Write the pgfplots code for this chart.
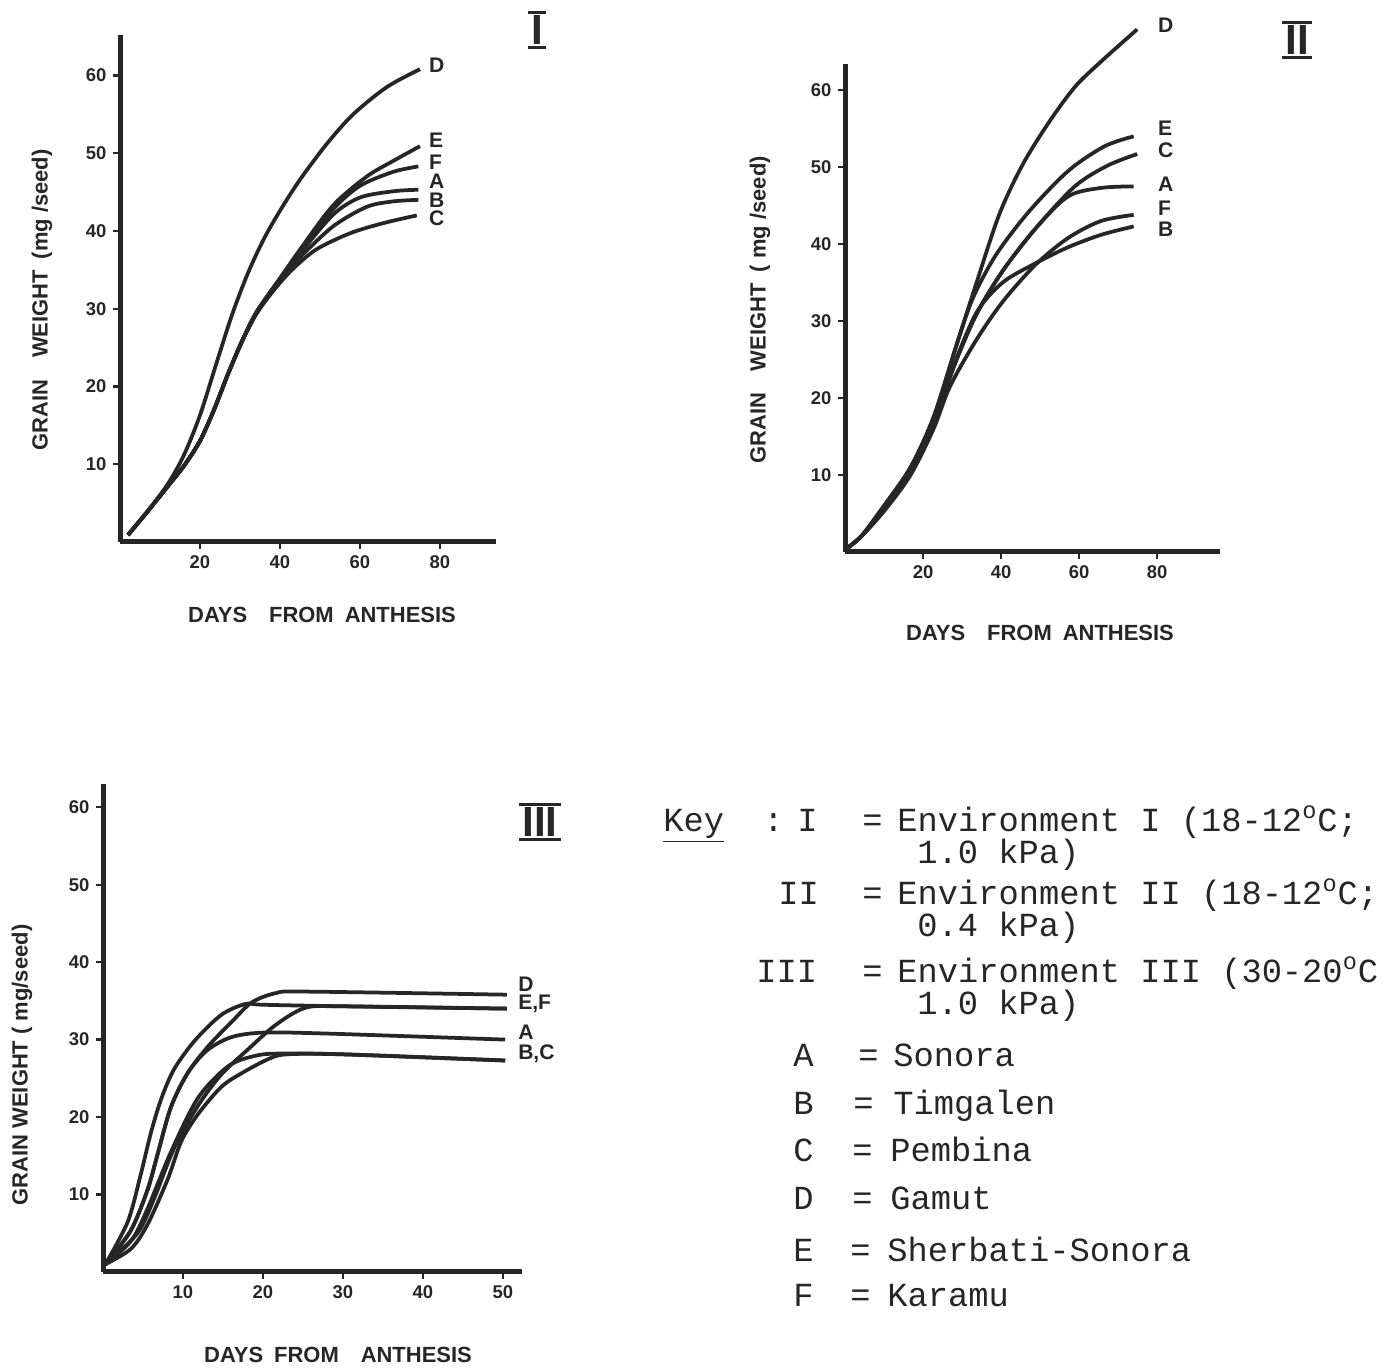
\documentclass[border=0pt]{standalone}
\usepackage{pgfplots}
\pgfplotsset{compat=1.18}
\usepackage{fontspec}
\setmainfont{Liberation Sans}
\newfontfamily\keyfont{Liberation Mono}

\pgfplotsset{
  panel/.style={
    scale only axis, axis x line=bottom, axis y line=left,
    axis line style={-, line width=1mm, black!85},
    tick align=outside, major tick length=1.5mm,
    tick style={line width=0.45mm, black!85},
    ticklabel style={font=\fontsize{10.5}{12}\selectfont\bfseries, black!85},
    /pgf/number format/assume math mode=true,
    clip=false, enlargelimits=false, anchor=south west,
  },
  crv/.style={smooth, line width=0.75mm, black!85, no marks},
}
\tikzset{
  lbl/.style={font=\fontsize{12}{14}\selectfont\bfseries, text=black!85, anchor=west, inner sep=0.4pt},
  axlbl/.style={font=\fontsize{12.5}{14}\selectfont\bfseries, text=black!85},
  key/.style={font=\keyfont\fontsize{19.2}{22}\selectfont, text=black!85, anchor=base west, inner sep=0pt},
}
\newcommand\panellabel[2]{%
  \node[font=\fontsize{24}{24}\selectfont\bfseries, text=black!85, inner sep=1.5pt] (pl) at #1 {#2};
  \draw[line width=0.6mm, black!85] (pl.north west) -- (pl.north east);
  \draw[line width=0.6mm, black!85] (pl.south west) -- (pl.south east);
}

\begin{document}
\begin{tikzpicture}
\useasboundingbox (0,0) rectangle (277.6mm,273.6mm);

% ---- panel I
\begin{axis}[panel, at={(24mm,165.2mm)}, width=75.2mm, height=101.4mm,
  xmin=0, xmax=94, ymin=0, ymax=65.2,
  xtick={20,40,60,80}, ytick={10,20,30,40,50,60}]
  % D
  \addplot[crv] coordinates {(2,0.9)(7,4)(12,7.5)(16,11.2)(20,16.3)(24,22.8)(28,29.2)(32,34.6)(36,39)(40,42.6)(45,46.6)(51.7,51.2)(58.3,55)(66.7,58.5)(75,60.8)};
  % E
  \addplot[crv] coordinates {(2,0.9)(7,4)(12,7.2)(16,9.8)(20,13)(23.5,17)(27,21.6)(30.5,25.8)(34.2,29.6)(40,33.9)(45,37.6)(53.3,43.3)(61.7,47)(68.3,49)(75,50.9)};
  % F
  \addplot[crv] coordinates {(2,0.9)(7,4)(12,7.2)(16,9.8)(20,13)(23.5,17)(27,21.6)(30.5,25.8)(34.2,29.6)(40,33.9)(45,37.4)(53.3,42.8)(60,45.8)(68.3,47.6)(74.6,48.3)};
  % A
  \addplot[crv] coordinates {(2,0.9)(7,4)(12,7.2)(16,9.8)(20,13)(23.5,17)(27,21.6)(30.5,25.8)(34.2,29.6)(40,33.8)(45,37.1)(53.3,42.1)(60,44.3)(68.3,45.1)(74.6,45.3)};
  % B
  \addplot[crv] coordinates {(2,0.9)(7,4)(12,7.2)(16,9.8)(20,13)(23.5,17)(27,21.6)(30.5,25.8)(34.2,29.6)(40,33.6)(45,36.6)(53.3,40.6)(61.7,43.1)(68.3,43.8)(74.6,44)};
  % C
  \addplot[crv] coordinates {(2,0.9)(7,4)(12,7.2)(16,9.8)(20,13)(23.5,17)(27,21.6)(30.5,25.8)(34.2,29.4)(38.5,32.4)(43,35)(49,37.6)(57.5,39.7)(65.8,41)(74.2,42)};
  \node[lbl] at (axis cs:77,61.3) {D};
  \node[lbl] at (axis cs:77,51.7) {E};
  \node[lbl] at (axis cs:77,48.8) {F};
  \node[lbl] at (axis cs:77,46.4) {A};
  \node[lbl] at (axis cs:77,44.0) {B};
  \node[lbl] at (axis cs:77,41.6) {C};
\end{axis}

% ---- panel II
\begin{axis}[panel, at={(169mm,163.2mm)}, width=74.9mm, height=97.6mm,
  xmin=0, xmax=96, ymin=0, ymax=63.4,
  xtick={20,40,60,80}, ytick={10,20,30,40,50,60}]
  % D
  \addplot[crv] coordinates {(0,0.3)(4.1,2)(10,6)(16.8,11)(22.7,17.5)(28.6,26.9)(33.6,34.8)(39.5,43.8)(45.4,50.2)(52.1,55.7)(58.9,60.4)(65.6,63.7)(74.9,67.9)};
  % E
  \addplot[crv] coordinates {(0,0.3)(4.1,2)(10,6)(16.8,11)(22.7,17.5)(28.6,26.9)(32.8,33)(38.7,38.6)(47.1,44.2)(57.2,49.5)(66.5,52.7)(74,54)};
  % C
  \addplot[crv] coordinates {(0,0.3)(4.1,2)(10,5.5)(16.8,10.4)(22.7,17)(28.6,25)(33.8,31)(40.4,36.5)(48.8,42)(58.9,47.5)(67.3,50.2)(74.9,51.7)};
  % A
  \addplot[crv] coordinates {(0,0.3)(4.1,2)(10,5.5)(16.8,10.4)(22.7,17)(28.6,25)(33.8,31)(40.4,36.5)(48.8,42)(57.2,46.2)(65.6,47.3)(74,47.5)};
  % F
  \addplot[crv] coordinates {(0,0.3)(4.1,2)(10,5.3)(16.8,10)(22.7,16)(26.9,21.5)(33.6,27.5)(40.4,32.5)(48.8,37.3)(57.2,40.8)(65.6,43)(74,43.8)};
  % B
  \addplot[crv] coordinates {(0,0.3)(4.1,2)(10,5.5)(16.8,10.4)(22.7,17)(26.9,23)(33.6,31)(40.4,35)(48.8,37.5)(57.2,39.6)(65.6,41.2)(74,42.3)};
  \node[lbl] at (axis cs:80,68.4) {D};
  \node[lbl] at (axis cs:80,55.1) {E};
  \node[lbl] at (axis cs:80,52.2) {C};
  \node[lbl] at (axis cs:80,47.8) {A};
  \node[lbl] at (axis cs:80,44.6) {F};
  \node[lbl] at (axis cs:80,41.9) {B};
\end{axis}

% ---- panel III
\begin{axis}[panel, at={(20.6mm,19.2mm)}, width=83.8mm, height=97.6mm,
  xmin=0, xmax=52.4, ymin=0, ymax=63,
  xtick={10,20,30,40,50}, ytick={10,20,30,40,50,60}]
  % E
  \addplot[crv] coordinates {(0.3,1)(3.1,6.5)(4.7,12.5)(6,18)(7.3,22.4)(8.9,26.2)(11.5,29.9)(14.8,33.2)(17.8,34.6)(20,34.5)(30,34.3)(50.5,34)};
  % D
  \addplot[crv] coordinates {(0.3,1)(3.5,5.4)(5.6,10.7)(6.8,15.1)(8.5,21.3)(10.6,25.7)(13.2,29.2)(16.1,32.3)(18.6,34.8)(21.6,36)(25.3,36.2)(50.5,35.8)};
  % A
  \addplot[crv] coordinates {(0.3,1)(3.5,5.4)(5.6,10.7)(6.8,15.1)(8.5,21.3)(10.6,25.7)(13,28.6)(16,30.3)(19.9,30.9)(27.4,30.8)(50.3,30)};
  % F
  \addplot[crv] coordinates {(0.3,1)(4.3,5)(6.4,9.5)(8.9,16)(11.9,21.5)(14.8,25.5)(18.2,28.8)(21.6,31.9)(25.3,34.1)(30,34.3)(50.5,34)};
  % B
  \addplot[crv] coordinates {(0.3,1)(3.5,4)(5.5,8)(8.5,15.5)(11.9,22.5)(15.7,26.6)(19,27.9)(22,28.2)(30,28.1)(50.3,27.3)};
  % C
  \addplot[crv] coordinates {(0.3,1)(3.5,3)(5.6,6.2)(8.1,12)(9.8,16.9)(11.9,20.4)(14.8,23.9)(17.4,25.7)(20.7,27.5)(23,28.1)(30,28.1)(50.3,27.3)};
  \node[lbl] at (axis cs:51.8,37.2) {D};
  \node[lbl] at (axis cs:51.8,34.6) {E,F};
  \node[lbl] at (axis cs:51.8,31.0) {A};
  \node[lbl] at (axis cs:51.8,28.2) {B,C};
\end{axis}

% ---- axis titles
\node[axlbl, rotate=90] at (8.4mm,213.6mm) {GRAIN\quad WEIGHT\enspace(mg /seed)};
\node[axlbl] at (64.4mm,150.6mm) {DAYS\quad FROM\enspace ANTHESIS};
\node[axlbl, rotate=90] at (152mm,211.6mm) {GRAIN\quad WEIGHT\enspace( mg /seed)};
\node[axlbl] at (208mm,147mm) {DAYS\quad FROM\enspace ANTHESIS};
\node[axlbl, rotate=90] at (4.4mm,60.6mm) {GRAIN WEIGHT ( mg/seed)};
\node[axlbl] at (67.6mm,2.6mm) {DAYS\enspace FROM\quad ANTHESIS};

\panellabel{(107.4mm,267.6mm)}{I}
\panellabel{(259.4mm,265.6mm)}{II}
\panellabel{(108mm,109.2mm)}{III}

% ---- key
\node[key] at (132.6mm,107.2mm) {\underline{Key}};
\node[key] at (152.6mm,107.2mm) {:};
\node[key] at (159.4mm,107.2mm) {I};
\node[key] at (172.4mm,107.2mm) {=};
\node[key] at (179.4mm,107.2mm) {Environment I (18-12\textsuperscript{o}C;};
\node[key] at (183.4mm,100.8mm) {1.0 kPa)};
\node[key] at (155.6mm,92.6mm) {II};
\node[key] at (172.4mm,92.6mm) {=};
\node[key] at (179.4mm,92.6mm) {Environment II (18-12\textsuperscript{o}C;};
\node[key] at (183.4mm,86.2mm) {0.4 kPa)};
\node[key] at (151.2mm,77mm) {III};
\node[key] at (172.4mm,77mm) {=};
\node[key] at (179.4mm,77mm) {Environment III (30-20\textsuperscript{o}C};
\node[key] at (183.4mm,70.6mm) {1.0 kPa)};
\node[key] at (158.6mm,60.2mm) {A};
\node[key] at (171.6mm,60.2mm) {=};
\node[key] at (178.6mm,60.2mm) {Sonora};
\node[key] at (158.6mm,50.6mm) {B};
\node[key] at (170.6mm,50.6mm) {=};
\node[key] at (178.6mm,50.6mm) {Timgalen};
\node[key] at (158.6mm,41.2mm) {C};
\node[key] at (170.4mm,41.2mm) {=};
\node[key] at (178mm,41.2mm) {Pembina};
\node[key] at (158.6mm,31.6mm) {D};
\node[key] at (170.4mm,31.6mm) {=};
\node[key] at (178mm,31.6mm) {Gamut};
\node[key] at (158.6mm,21.2mm) {E};
\node[key] at (170mm,21.2mm) {=};
\node[key] at (177.4mm,21.2mm) {Sherbati-Sonora};
\node[key] at (158.6mm,12.2mm) {F};
\node[key] at (170mm,12.2mm) {=};
\node[key] at (177.4mm,12.2mm) {Karamu};
\end{tikzpicture}
\end{document}
